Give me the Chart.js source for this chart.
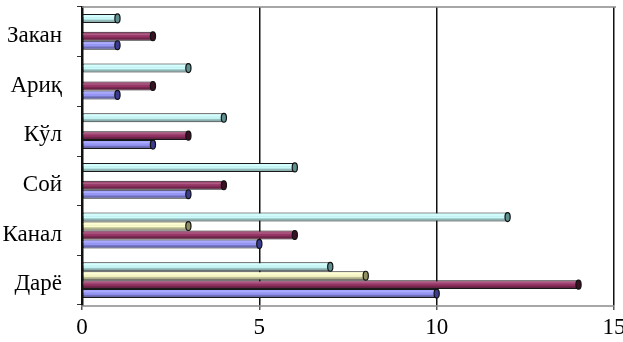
<!DOCTYPE html>
<html>
<head>
<meta charset="utf-8">
<script src="https://cdn.jsdelivr.net/npm/chart.js@4/dist/chart.umd.min.js"></script>
<style>
html,body{margin:0;padding:0;background:#fff;}
#wrap{width:623px;height:342px;position:relative;}
</style>
</head>
<body>
<div id="wrap"><canvas id="c" width="623" height="342"></canvas></div>
<script>
const categories = ["Закан", "Ариқ", "Кўл", "Сой", "Канал", "Дарё"];
const seriesCyan   = [1, 3, 4, 6, 12, 7];
const seriesYellow = [0, 0, 0, 0, 3, 8];
const seriesMaroon = [2, 2, 3, 4, 6, 14];
const seriesBlue   = [1, 1, 2, 3, 5, 10];
const xTicks = [0, 5, 10, 15];

const FONT = "'Liberation Serif', 'Times New Roman', serif";

const cylinder = {
  id: 'cylinder',
  afterDatasetsDraw(chart) {
    const ctx = chart.ctx;
    chart.data.datasets.forEach((ds, di) => {
      const meta = chart.getDatasetMeta(di);
      meta.data.forEach((el) => {
        const {x, y, base, height} = el.getProps(['x','y','base','height'], true);
        if (Math.abs(x - base) < 0.5) return;
        const top = y - height/2, bot = y + height/2;
        ctx.save();
        const g = ctx.createLinearGradient(0, top, 0, bot);
        g.addColorStop(0, 'rgba(255,255,255,0.0)');
        g.addColorStop(0.3, 'rgba(255,255,255,0.2)');
        g.addColorStop(0.55, 'rgba(0,0,0,0.0)');
        g.addColorStop(0.7, 'rgba(0,0,0,0.25)');
        g.addColorStop(1, 'rgba(0,0,0,0.45)');
        ctx.fillStyle = g;
        ctx.fillRect(base, top + 1, x - base - 1, height - 2);
        // end cap
        ctx.beginPath();
        ctx.ellipse(x, y, 2.6, height/2, 0, 0, Math.PI*2);
        ctx.fillStyle = ds.capColor;
        ctx.fill();
        ctx.lineWidth = 1.2;
        ctx.strokeStyle = '#111';
        ctx.stroke();
        ctx.restore();
      });
    });
  }
};

const frame = {
  id: 'frame',
  beforeDatasetsDraw(chart) {
    const {left, right, top, bottom} = chart.chartArea;
    const ctx = chart.ctx;
    ctx.save();
    ctx.strokeStyle = '#8a8a8a';
    ctx.lineWidth = 1.5;
    ctx.beginPath();
    ctx.moveTo(left, top); ctx.lineTo(right + 2, top);
    ctx.stroke();
    ctx.beginPath();
    ctx.moveTo(left - 1, bottom + 1); ctx.lineTo(right, bottom + 1);
    ctx.stroke();
    ctx.restore();
  }
};

function mk(label, data, color, cap) {
  return {
    label, data,
    backgroundColor: color,
    borderColor: '#1a1a1a',
    borderWidth: 1,
    borderSkipped: false,
    capColor: cap
  };
}

new Chart(document.getElementById('c'), {
  type: 'bar',
  data: {
    labels: categories,
    datasets: [
      mk('cyan', seriesCyan, '#CCFFFF', '#5f8f8f'),
      mk('yellow', seriesYellow, '#FFFFCC', '#8f8f5f'),
      mk('maroon', seriesMaroon, '#993366', '#3a1024'),
      mk('blue', seriesBlue, '#9999FF', '#3b3b8f')
    ]
  },
  options: {
    indexAxis: 'y',
    responsive: false,
    animation: false,
    devicePixelRatio: 1,
    layout: { padding: { top: 7, right: 9, left: 0, bottom: 0 } },
    plugins: { legend: { display: false }, tooltip: { enabled: false } },
    datasets: { bar: { categoryPercentage: 0.72, barPercentage: 1.0 } },
    scales: {
      x: {
        min: 0, max: 15,
        afterBuildTicks(s) { s.ticks = xTicks.map(v => ({value: v})); },
        afterFit(s) { s.height = 37; s.paddingLeft = 0; s.paddingRight = 0; },
        grid: {
          color: (c) => c.tick && c.tick.value === 0 ? 'rgba(0,0,0,0)' : '#111',
          lineWidth: 1.5,
          tickLength: 5,
          drawTicks: true,
          tickColor: '#555'
        },
        border: { display: false },
        ticks: {
          font: { family: FONT, size: 23 },
          color: '#000',
          padding: 4,
          maxRotation: 0
        }
      },
      y: {
        afterFit(s) { s.width = 82; s.paddingTop = 0; s.paddingBottom = 0; },
        grid: {
          drawOnChartArea: false,
          offset: true,
          tickLength: 5,
          tickColor: '#333',
          lineWidth: 1
        },
        border: { display: true, color: '#111', width: 2.5 },
        ticks: {
          font: { family: FONT, size: 23 },
          color: '#000',
          padding: 15,
          labelOffset: 4
        }
      }
    }
  },
  plugins: [frame, cylinder]
});
</script>
</body>
</html>
